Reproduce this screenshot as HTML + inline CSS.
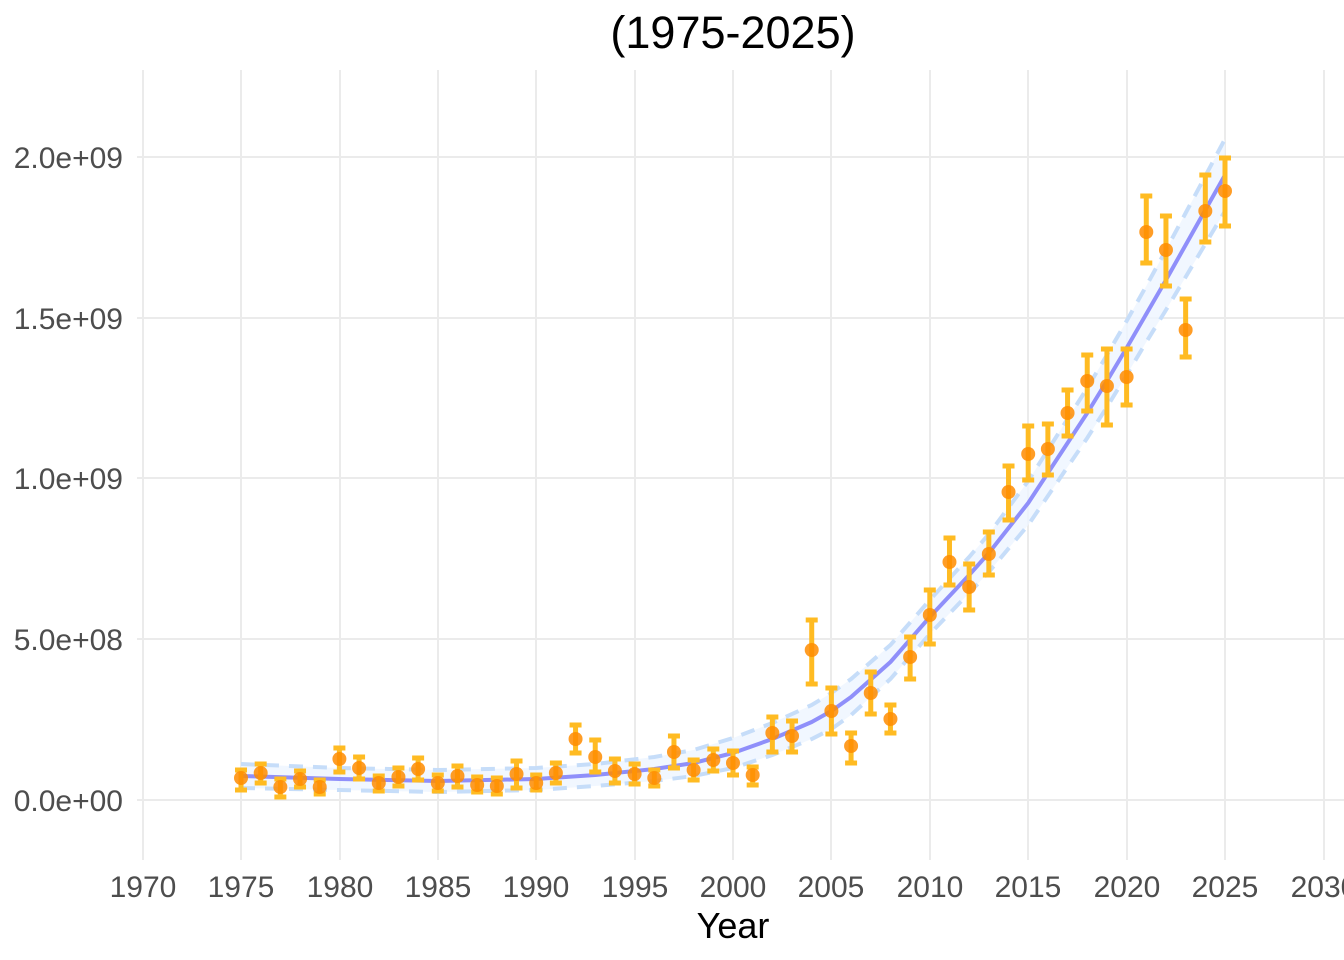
<!DOCTYPE html>
<html><head><meta charset="utf-8"><style>
html,body{margin:0;padding:0;background:#fff;}
svg{display:block;font-family:"Liberation Sans",Arial,sans-serif;}
</style></head><body>
<svg id="s" width="1344" height="960" viewBox="0 0 1344 960">
<g stroke="#EBEBEB" stroke-width="2" fill="none">
<line x1="143" y1="70" x2="143" y2="860"/><line x1="241" y1="70" x2="241" y2="860"/>
<line x1="340" y1="70" x2="340" y2="860"/><line x1="438" y1="70" x2="438" y2="860"/>
<line x1="536" y1="70" x2="536" y2="860"/><line x1="635" y1="70" x2="635" y2="860"/>
<line x1="733" y1="70" x2="733" y2="860"/><line x1="831" y1="70" x2="831" y2="860"/>
<line x1="930" y1="70" x2="930" y2="860"/><line x1="1028" y1="70" x2="1028" y2="860"/>
<line x1="1127" y1="70" x2="1127" y2="860"/><line x1="1225" y1="70" x2="1225" y2="860"/>
<line x1="1324" y1="70" x2="1324" y2="860"/>
<line x1="137" y1="157" x2="1344" y2="157"/><line x1="137" y1="318" x2="1344" y2="318"/>
<line x1="137" y1="478" x2="1344" y2="478"/><line x1="137" y1="639" x2="1344" y2="639"/>
<line x1="137" y1="800" x2="1344" y2="800"/>
</g>
<g id="d"></g>
<g fill="#4D4D4D" font-size="30" text-anchor="end">
<text x="123" y="168">2.0e+09</text><text x="123" y="329">1.5e+09</text>
<text x="123" y="489">1.0e+09</text><text x="123" y="650">5.0e+08</text>
<text x="123" y="811">0.0e+00</text>
</g>
<g fill="#4D4D4D" font-size="30" text-anchor="middle">
<text x="143" y="897">1970</text><text x="241" y="897">1975</text><text x="340" y="897">1980</text>
<text x="438" y="897">1985</text><text x="536" y="897">1990</text><text x="635" y="897">1995</text>
<text x="733" y="897">2000</text><text x="831" y="897">2005</text><text x="930" y="897">2010</text>
<text x="1028" y="897">2015</text><text x="1127" y="897">2020</text><text x="1225" y="897">2025</text>
<text x="1324" y="897">2030</text>
</g>
<text x="733" y="938" font-size="36" text-anchor="middle" fill="#000">Year</text>
<text x="733" y="48" font-size="45" text-anchor="middle" fill="#000">(1975-2025)</text>
</svg>
<script>
var X=function(y){return 241+(y-1975)*19.68;};
var pts=[[778,770,790],[773,764,783],[787,779,797],[779,771,787],[787,780,794],[759,748,772],[768,757,779],[783,776,791],[777,768,786],[769,758,780],[783,775,791],[776,766,787],[785,777,792],[786,778,794],[774,761,788],[783,775,790],[773,763,783],[739,725,753],[757,740,772],[771,759,783],[774,764,784],[778,770,786],[752,736,768],[770,760,780],[760,749,771],[763,751,775],[775,767,785],[733,717,752],[736,721,752],[650,620,684],[711,688,734],[746,733,763],[693,672,714],[719,705,733],[657,637,679],[615,590,644],[562,538,585],[587,564,610],[554,532,575],[492,466,520],[454,426,480],[449,424,475],[413,390,436],[381,355,411],[386,349,425],[377,349,405],[232,196,263],[250,216,286],[330,299,357],[211,175,242],[191,158,226]];
var fit=[[1975,776,12],[1980,779,11],[1985,781,11],[1990,779,11],[1993,775,11],[1996,769,12],[1998,763,13],[2000,753,15],[2002,739,16],[2004,722,17],[2005,711,18],[2006,697,18],[2008,662,17],[2010,617,17],[2012,575,18],[2013,553,19],[2015,503,22],[2017,443,24],[2018,413,25],[2019,381,26],[2020,348,27],[2021,314,28],[2022,280,30],[2023,245,32],[2024,210,34],[2025,175,36]];
var ns="http://www.w3.org/2000/svg",g=document.getElementById('d');
function el(t,a){var e=document.createElementNS(ns,t);for(var k in a)e.setAttribute(k,a[k]);g.appendChild(e);return e;}
var up=[],lo=[],mid=[];
fit.forEach(function(f){var x=X(f[0]);mid.push(x+','+f[1]);up.push(x+','+(f[1]-f[2]));lo.push(x+','+(f[1]+f[2]));});
el('polygon',{points:up.concat(lo.slice().reverse()).join(' '),fill:'#EEF5FF','fill-opacity':0.8});
el('polyline',{points:up.join(' '),fill:'none',stroke:'#C6DDF9','stroke-width':4,'stroke-dasharray':'14,10'});
el('polyline',{points:lo.join(' '),fill:'none',stroke:'#C6DDF9','stroke-width':4,'stroke-dasharray':'14,10'});
el('polyline',{points:mid.join(' '),fill:'none',stroke:'#8F8FFA','stroke-width':4,'stroke-linejoin':'round'});
pts.forEach(function(p,i){var x=X(1975+i);
el('line',{x1:x,x2:x,y1:p[1],y2:p[2],stroke:'#FFBB22','stroke-width':5});
el('line',{x1:x-6,x2:x+6,y1:p[1],y2:p[1],stroke:'#FFBB22','stroke-width':5});
el('line',{x1:x-6,x2:x+6,y1:p[2],y2:p[2],stroke:'#FFBB22','stroke-width':5});
el('circle',{cx:x,cy:p[0],r:7,fill:'#FF8C00','fill-opacity':0.85});
});
</script>
</body></html>
